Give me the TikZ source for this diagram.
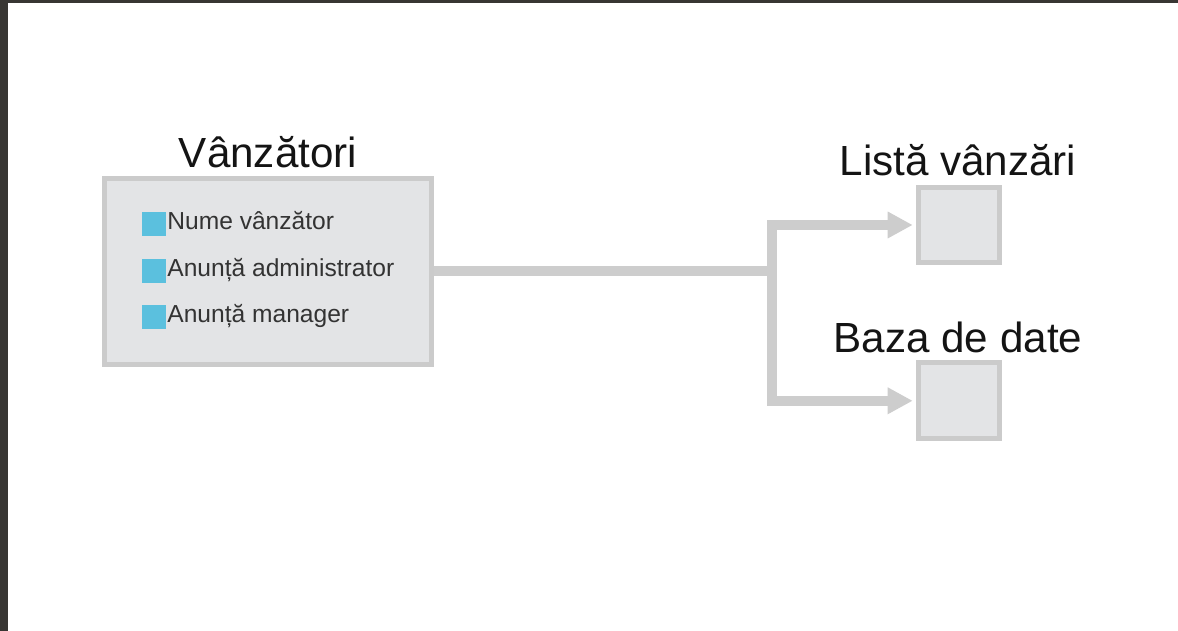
\documentclass[tikz,border=0pt]{standalone}
\usepackage{fontspec}
\setmainfont{Liberation Sans}
\usetikzlibrary{arrows.meta}
\definecolor{boxfill}{HTML}{E3E4E6}
\definecolor{boxline}{HTML}{CBCBCB}
\definecolor{linkgray}{HTML}{CDCDCD}
\definecolor{bulletblue}{HTML}{5BC0DE}
\definecolor{framedark}{HTML}{383633}

\begin{document}
\begin{tikzpicture}[x=0.02cm,y=-0.02cm]
    \tikzstyle{panel}=[draw=boxline, fill=boxfill, line width=0.1cm, inner sep=0pt]
    \tikzstyle{title}=[anchor=base, font=\fontsize{24}{28}\selectfont, text=black!92, inner sep=0pt]
    \tikzstyle{item}=[anchor=base west, font=\fontsize{14}{16}\selectfont, text=black!80, inner sep=0pt]
    \tikzstyle{bullet}=[fill=bulletblue, minimum size=0.48cm, inner sep=0pt]
    \tikzstyle{link}=[draw=linkgray, line width=0.2cm]

        \useasboundingbox (0,0) rectangle (1178,631);
        \fill[white] (0,0) rectangle (1178,631);
        \fill[framedark] (0,0) rectangle (8,631);
        \fill[framedark] (0,0) rectangle (1178,3);

        % Vanzatori
        \node[panel, minimum width=6.54cm, minimum height=3.72cm] (vz) at (268,271.5) {};
        \node[title] (vzt) at (268,168) {Vânzători};
        \foreach \y/\txt [count=\i] in {230/Nume vânzător, 276.5/Anunță administrator, 323/Anunță manager} {
            \node[bullet] (b\i) at (154,\y-5.5) {};
            \node[item] (it\i) at (167,\y) {\txt};
        }

        % tinte
        \node[panel, minimum width=1.62cm, minimum height=1.52cm] (ls) at (958.7,225) {};
        \node[title] (lst) at (958,176) {Listă vânzări};
        \node[panel, minimum width=1.62cm, minimum height=1.52cm] (bd) at (958.7,400.8) {};
        \node[title] (bdt) at (958,353) {Baza de date};

        % legaturi
        \coordinate (split) at (772,271.5);
        \draw[link] (vz.east) -- (split);
        \draw[link, {Triangle[length=0.5cm,width=0.5cm]}-{Triangle[length=0.5cm,width=0.5cm]}, shorten <=0.06cm, shorten >=0.06cm]
            (ls.west) -| (split) |- (bd.west);
\end{tikzpicture}
\end{document}
